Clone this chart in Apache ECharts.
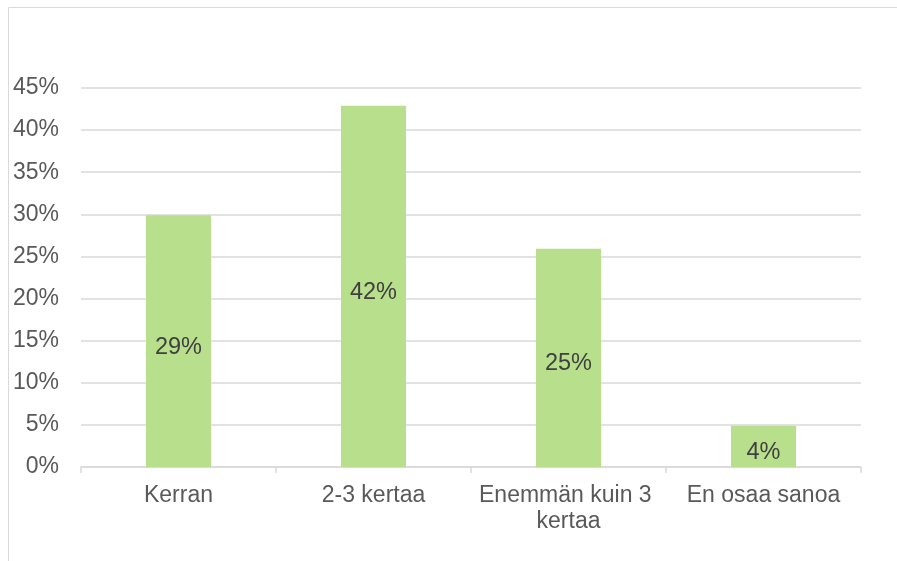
<!DOCTYPE html>
<html>
<head>
<meta charset="utf-8">
<script src="https://cdn.jsdelivr.net/npm/echarts@6/dist/echarts.min.js"></script>
<style>
  html, body { margin: 0; padding: 0; background: #fff; }
  #chart { width: 897px; height: 561px; }
</style>
</head>
<body>
<div id="chart"></div>
<script>
const categories = ["Kerran", "2-3 kertaa", "Enemmän kuin 3 kertaa", "En osaa sanoa"];
// bar heights as drawn (percent)
const values = [29.9, 42.9, 25.9, 4.9];
// labels as printed on the bars
const labelTexts = ["29%", "42%", "25%", "4%"];
const yTicks = [0, 5, 10, 15, 20, 25, 30, 35, 40, 45];

const chart = echarts.init(document.getElementById("chart"));

const font = "Liberation Sans, Arial, sans-serif";

chart.setOption({
  animation: false,
  graphic: [
    {
      type: "rect",
      shape: { x: 8.5, y: 7.5, width: 900, height: 600 },
      style: { fill: "none", stroke: "#d9d9d9", lineWidth: 1 },
      silent: true,
    },
  ],
  grid: {
    left: 81,
    right: 36,
    top: 88,
    bottom: 94,
  },
  xAxis: {
    type: "category",
    data: categories,
    axisLine: { lineStyle: { color: "#d9d9d9", width: 1.5 } },
    axisTick: { show: true, length: 6, lineStyle: { color: "#d9d9d9", width: 1.5 } },
    axisLabel: {
      color: "#595959",
      fontFamily: font,
      fontSize: 23,
      lineHeight: 26,
      margin: 16,
      width: 190,
      overflow: "break",
      interval: 0,
    },
  },
  yAxis: {
    type: "value",
    min: yTicks[0],
    max: yTicks[yTicks.length - 1],
    interval: 5,
    axisLine: { show: false },
    axisTick: { show: false },
    splitLine: { lineStyle: { color: "#d9d9d9", width: 1.5 } },
    axisLabel: {
      color: "#595959",
      fontFamily: font,
      fontSize: 23,
      margin: 22,
      padding: [4, 0, 0, 0],
      formatter: (v) => v + "%",
    },
  },
  series: [
    {
      type: "bar",
      data: values,
      barWidth: 65,
      itemStyle: { color: "#b8df8c" },
      label: {
        show: true,
        position: "inside",
        offset: [0, 6],
        color: "#404040",
        fontFamily: font,
        fontSize: 23.5,
        formatter: (p) => labelTexts[p.dataIndex],
      },
    },
  ],
});
</script>
</body>
</html>
